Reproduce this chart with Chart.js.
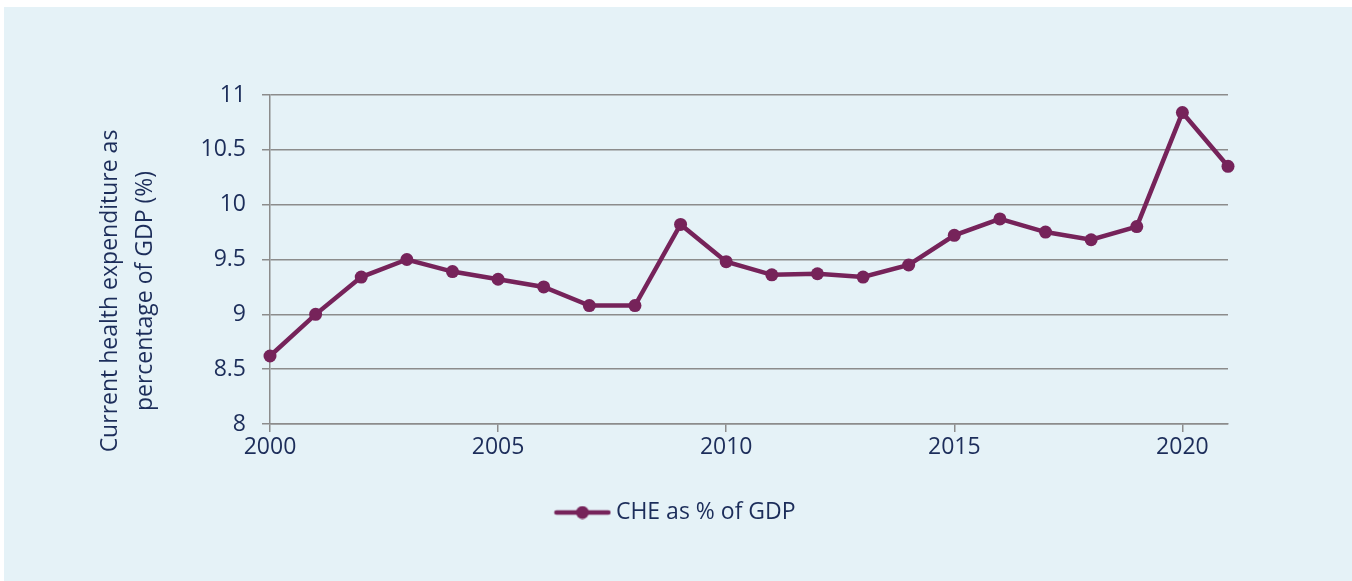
<!DOCTYPE html>
<html>
<head>
<meta charset="utf-8">
<script src="https://cdn.jsdelivr.net/npm/chart.js@4"></script>
<style>
  body { margin: 0; background: #ffffff; }
  #panel {
    position: absolute; left: 4px; top: 7px;
    width: 1348px; height: 574px;
    background: #e5f2f7;
  }
</style>
</head>
<body>
<div id="panel"><canvas id="cheChart"></canvas></div>
<script>
const years = [2000, 2001, 2002, 2003, 2004, 2005, 2006, 2007, 2008, 2009, 2010,
               2011, 2012, 2013, 2014, 2015, 2016, 2017, 2018, 2019, 2020, 2021];
const chePct = [8.62, 9.0, 9.34, 9.5, 9.39, 9.32, 9.25, 9.08, 9.08, 9.82, 9.48,
                9.36, 9.37, 9.34, 9.45, 9.72, 9.87, 9.75, 9.68, 9.8, 10.84, 10.35];
const yearTicks = [2000, 2005, 2010, 2015, 2020];
const seriesLabel = 'CHE as % of GDP';
const yTitle = ['Current health expenditure as', 'percentage of GDP (%)'];

const plum = '#76235a';
const navy = '#1c2d5a';
const gridGrey = '#8c8c8c';
const fontFamily = '"Open Sans", "Noto Sans", sans-serif';
const fontSize = 23;

// legend symbol: line with a dot in the middle
const legendIcon = document.createElement('canvas');
legendIcon.width = 58;
legendIcon.height = 14;
const g = legendIcon.getContext('2d');
g.strokeStyle = plum;
g.lineWidth = 4.5;
g.lineCap = 'round';
g.beginPath(); g.moveTo(3, 7); g.lineTo(55, 7); g.stroke();
g.fillStyle = plum;
g.beginPath(); g.arc(29, 7, 6.5, 0, 2 * Math.PI); g.fill();

// two-line rotated y axis title, sitting a bit below the axis middle like the original
const yTitlePlugin = {
    id: 'yTitle',
    afterLayout(chart) {
        // centre the legend on the whole canvas, not just the padded part
        chart.legend.left = 0;
        chart.legend.right = chart.width;
        chart.legend.width = chart.width;
    },
    afterDraw(chart) {
        const ctx = chart.ctx;
        ctx.save();
        ctx.font = fontSize + 'px ' + fontFamily;
        ctx.fillStyle = navy;
        ctx.textAlign = 'center';
        ctx.textBaseline = 'middle';
        const xs = [106, 141];
        yTitle.forEach(function(line, i) {
            ctx.save();
            ctx.translate(xs[i], 284);
            ctx.rotate(-Math.PI / 2);
            ctx.fillText(line, 0, 0);
            ctx.restore();
        });
        ctx.restore();
    }
};

const ctx = document.getElementById('cheChart').getContext('2d');
const cheChart = new Chart(ctx, {
    type: 'line',
    data: {
        datasets: [{
            label: seriesLabel,
            data: years.map((yr, i) => ({ x: yr, y: chePct[i] })),
            borderColor: plum,
            backgroundColor: plum,
            borderWidth: 4.5,
            pointRadius: 6.5,
            pointHoverRadius: 6.5,
            pointBorderWidth: 0,
            tension: 0,
            clip: false
        }]
    },
    options: {
        responsive: true,
        maintainAspectRatio: false,
        animation: false,
        layout: {
            padding: { left: 0, right: 124, top: 88, bottom: 47 }
        },
        scales: {
            x: {
                type: 'linear',
                min: 2000,
                max: 2021,
                afterFit: function(scale) { scale.height = 67; },
                afterBuildTicks: function(scale) {
                    scale.ticks = yearTicks.map(v => ({ value: v }));
                },
                grid: {
                    drawOnChartArea: false,
                    color: gridGrey,
                    lineWidth: 1.5,
                    tickLength: 8
                },
                border: { color: gridGrey, width: 1.5 },
                ticks: {
                    color: navy,
                    padding: 2,
                    maxRotation: 0,
                    autoSkip: false,
                    font: { family: fontFamily, size: fontSize },
                    callback: function(value) { return String(value); }
                }
            },
            y: {
                min: 8,
                max: 11,
                afterFit: function(scale) { scale.width = 266; },
                grid: {
                    color: gridGrey,
                    lineWidth: 1.5,
                    tickLength: 8
                },
                border: { color: gridGrey, width: 1.5 },
                ticks: {
                    stepSize: 0.5,
                    color: navy,
                    padding: 16,
                    font: { family: fontFamily, size: fontSize },
                    callback: function(value) { return String(value); }
                }
            }
        },
        plugins: {
            legend: {
                position: 'bottom',
                labels: {
                    color: navy,
                    font: { family: fontFamily, size: fontSize },
                    padding: 10,
                    usePointStyle: true,
                    pointStyleWidth: 44,
                    generateLabels: function(chart) {
                        const items = Chart.defaults.plugins.legend.labels.generateLabels(chart);
                        items.forEach(function(item) { item.pointStyle = legendIcon; });
                        return items;
                    }
                }
            },
            tooltip: { enabled: false }
        }
    },
    plugins: [yTitlePlugin]
});
</script>
</body>
</html>
